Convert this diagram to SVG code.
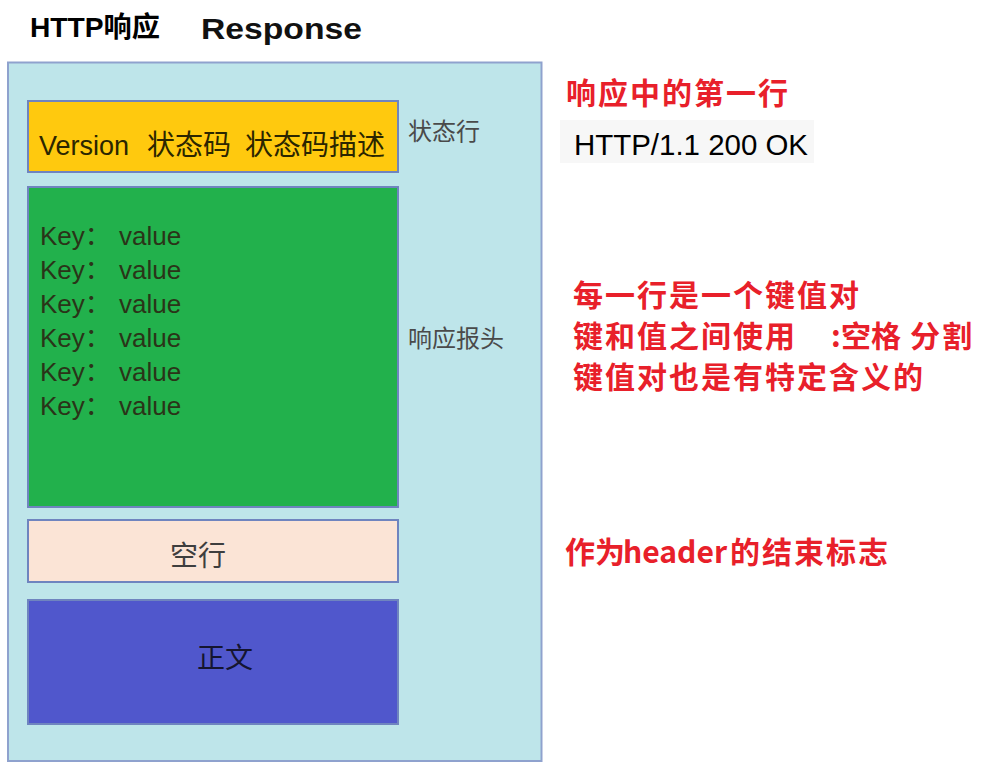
<svg xmlns="http://www.w3.org/2000/svg" width="986" height="771" viewBox="0 0 986 771">
<style>
.box{stroke:#6F84BF;stroke-width:2}
.cjk{font-family:"Noto Sans CJK SC","Liberation Sans",sans-serif}
.lat{font-family:"Liberation Sans","Noto Sans CJK SC",sans-serif}
.note{font-family:"Noto Sans CJK SC","Liberation Sans",sans-serif;font-weight:bold;fill:#E8202A;font-size:30px}
.side{font-family:"Noto Sans CJK SC",sans-serif;font-size:24px;fill:#4A4A4A}
.kv{font-family:"Liberation Sans","Noto Sans CJK SC",sans-serif;font-size:26px;fill:#2A3418}
</style>
<rect width="986" height="771" fill="#FFFFFF"/>
<g id="title">
<text x="30" y="37" class="lat" font-size="28" font-weight="bold" fill="#000" textLength="130" lengthAdjust="spacingAndGlyphs">HTTP响应</text>
<text x="201" y="39" class="lat" font-size="29" font-weight="bold" fill="#111" textLength="161" lengthAdjust="spacingAndGlyphs">Response</text>
</g>
<g id="response">
<rect x="8" y="62.5" width="533.5" height="698.5" fill="#BEE5EA" stroke="#8FA2CE" stroke-width="2"/>
</g>
<g id="status-line">
<rect x="28" y="101" width="370" height="71" fill="#FFC90E" class="box"/>
<text y="155" font-size="28" fill="#2B2600"><tspan x="39" class="lat" font-size="27">Version</tspan><tspan x="147" class="cjk">状态码</tspan><tspan x="245" class="cjk">状态码描述</tspan></text>
<text x="408" y="140" class="side">状态行</text>
</g>
<g id="headers">
<rect x="28" y="187" width="370" height="320" fill="#22B14C" class="box"/>
<text class="kv"><tspan x="40" y="245">Key：</tspan><tspan x="119" y="245">value</tspan></text>
<text class="kv"><tspan x="40" y="279">Key：</tspan><tspan x="119" y="279">value</tspan></text>
<text class="kv"><tspan x="40" y="313">Key：</tspan><tspan x="119" y="313">value</tspan></text>
<text class="kv"><tspan x="40" y="347">Key：</tspan><tspan x="119" y="347">value</tspan></text>
<text class="kv"><tspan x="40" y="381">Key：</tspan><tspan x="119" y="381">value</tspan></text>
<text class="kv"><tspan x="40" y="415">Key：</tspan><tspan x="119" y="415">value</tspan></text>
<text x="408" y="347" class="side">响应报头</text>
</g>
<g id="blank-line">
<rect x="28" y="520" width="370" height="62" fill="#FBE4D6" class="box"/>
<text x="198" y="566" class="cjk" font-size="28" fill="#3E3E3E" text-anchor="middle">空行</text>
</g>
<g id="body">
<rect x="28" y="600" width="370" height="124" fill="#5057CC" class="box"/>
<text x="225" y="668" class="cjk" font-size="28" fill="#151530" text-anchor="middle">正文</text>
</g>
<g id="note-first-line">
<text x="566" y="104" class="note" letter-spacing="2">响应中的第一行</text>
<rect x="560" y="120" width="254" height="43" fill="#F7F7F7"/>
<text x="574" y="155" class="lat" font-size="29" fill="#000" textLength="234" lengthAdjust="spacingAndGlyphs">HTTP/1.1 200 OK</text>
</g>
<g id="note-headers">
<text x="573" y="306" class="note" letter-spacing="2">每一行是一个键值对</text>
<text y="347" class="note" letter-spacing="2"><tspan x="573">键和值之间使用</tspan><tspan x="831">:</tspan><tspan x="841" letter-spacing="0">空格</tspan><tspan x="910">分割</tspan></text>
<text x="573" y="388" class="note" letter-spacing="2">键值对也是有特定含义的</text>
</g>
<g id="note-blank">
<text y="563" class="note"><tspan x="565" letter-spacing="0">作为</tspan><tspan x="623" textLength="104" lengthAdjust="spacingAndGlyphs">header</tspan><tspan x="730" letter-spacing="2">的结束标志</tspan></text>
</g>
</svg>
